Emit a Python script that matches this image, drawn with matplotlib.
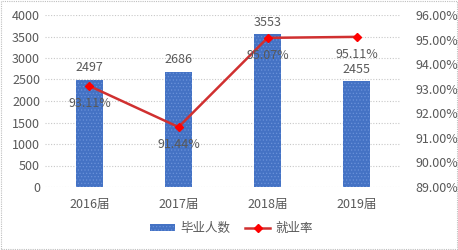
import matplotlib.pyplot as plt
import numpy as np

plt.rcParams['font.family'] = ['Noto Sans CJK SC', 'DejaVu Sans']
plt.rcParams['hatch.linewidth'] = 0.5

years = ['2016届', '2017届', '2018届', '2019届']
grads = [2497, 2686, 3553, 2455]
rate = [93.11, 91.44, 95.07, 95.11]

grey = '#595959'
fig = plt.figure(figsize=(4.58, 2.5), dpi=100)
ax = fig.add_axes([0.098, 0.252, 0.778, 0.688])
x = np.arange(len(years))

bars = ax.bar(x, grads, width=0.3, color='#4472C4', edgecolor='#6a92da',
              hatch='.....', linewidth=0, label='毕业人数', zorder=2)
ax.set_xlim(-0.5, 3.5)
ax.set_ylim(0, 4000)
ax.set_yticks(np.arange(0, 4001, 500))
ax.grid(axis='y', color='#c8c8c8', linestyle=(0, (1, 1.5)), linewidth=0.8, zorder=0)
ax.set_xticks(x)
ax.set_xticklabels(years)
for s in ax.spines.values():
    s.set_visible(False)
ax.tick_params(length=0, colors=grey, labelsize=9)
ax.tick_params(axis='x', pad=8)
for xi, g in zip(x, grads):
    ax.text(xi, g + 120, str(g), ha='center', va='bottom', color=grey, fontsize=9)

ax2 = ax.twinx()
ax2.plot(x, rate, color='#d03030', linewidth=1.8, marker='D', markersize=4,
         markerfacecolor='red', markeredgecolor='red', label='就业率', zorder=3)
ax2.set_ylim(89, 96)
ax2.set_yticks(np.arange(89, 96.1, 1))
ax2.set_yticklabels(['%.2f%%' % v for v in np.arange(89, 96.1, 1)])
for s in ax2.spines.values():
    s.set_visible(False)
ax2.tick_params(length=0, colors=grey, labelsize=9, pad=10)
for xi, r in zip(x, rate):
    ax2.text(xi, r - 0.45, '%.2f%%' % r, ha='center', va='top', color=grey, fontsize=9)

h1, l1 = ax.get_legend_handles_labels()
h2, l2 = ax2.get_legend_handles_labels()
fig.legend(h1 + h2, l1 + l2, loc='center', bbox_to_anchor=(0.505, 0.088), ncol=2,
           frameon=False, fontsize=9, labelcolor=grey, handlelength=2.0,
           handleheight=0.5, handletextpad=0.4, columnspacing=1.2)

fig.patches.append(plt.Rectangle((0.002, 0.004), 0.996, 0.992, transform=fig.transFigure,
                                 fill=False, edgecolor='#bfbfbf', linestyle=(0, (1, 1)), linewidth=0.8))
fig.savefig('out.png', dpi=100)
